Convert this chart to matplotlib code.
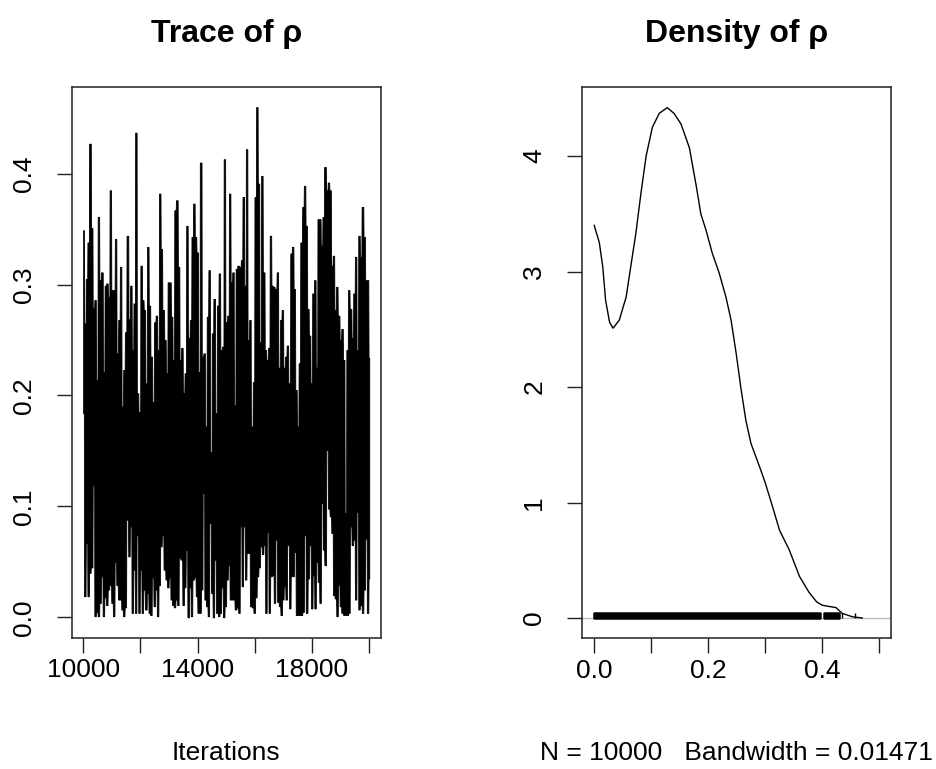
import numpy as np
import matplotlib
matplotlib.use("Agg")
import matplotlib.pyplot as plt

plt.rcParams['font.family'] = ['Liberation Sans', 'DejaVu Sans']

# ---------------- data ----------------
# Trace of rho: per-pixel-column upper and lower envelope of the 10000 draws
trace_upper_a = [0.349, 0.265, 0.305, 0.338, 0.427, 0.351, 0.279, 0.286, 0.214, 0.361, 0.304, 0.311,
                 0.221, 0.299, 0.301, 0.289, 0.385, 0.295, 0.295, 0.341, 0.238, 0.268, 0.316, 0.190,
                 0.223, 0.257, 0.344, 0.269, 0.299, 0.241, 0.283, 0.437, 0.202, 0.185, 0.317, 0.286,
                 0.277, 0.211, 0.334, 0.281, 0.235, 0.194, 0.266, 0.272, 0.241, 0.382, 0.332, 0.277,
                 0.250, 0.220, 0.302, 0.302, 0.271, 0.232, 0.367]
trace_upper_b = [0.376, 0.316, 0.232, 0.243, 0.202, 0.220, 0.353, 0.252, 0.268, 0.343, 0.373, 0.343,
                 0.329, 0.221, 0.410, 0.235, 0.238, 0.172, 0.271, 0.313, 0.149, 0.256, 0.287, 0.184,
                 0.281, 0.310, 0.241, 0.244, 0.413, 0.266, 0.272, 0.382, 0.302, 0.311, 0.191, 0.314,
                 0.317, 0.316, 0.322, 0.379, 0.299, 0.422, 0.250, 0.268, 0.172, 0.212, 0.379, 0.460,
                 0.391, 0.248, 0.398, 0.311, 0.241, 0.232, 0.243, 0.344, 0.299, 0.298]
trace_upper_c = [0.296, 0.311, 0.225, 0.268, 0.277, 0.225, 0.235, 0.245, 0.211, 0.328, 0.334, 0.296,
                 0.205, 0.172, 0.229, 0.338, 0.370, 0.389, 0.353, 0.278, 0.254, 0.211, 0.292, 0.304,
                 0.225, 0.359, 0.359, 0.335, 0.361, 0.406, 0.385, 0.392, 0.385, 0.317, 0.326, 0.277,
                 0.298, 0.272, 0.250, 0.260, 0.232, 0.094, 0.241, 0.295, 0.278, 0.252, 0.292, 0.325,
                 0.241, 0.344, 0.325, 0.370, 0.343, 0.304, 0.304, 0.234]
trace_lower_a = [0.184, 0.019, 0.067, 0.019, 0.040, 0.045, 0.119, 0.001, 0.005, 0.001, 0.013, 0.037,
                 0.001, 0.018, 0.011, 0.025, 0.029, 0.013, 0.001, 0.050, 0.029, 0.016, 0.016, 0.007,
                 0.001, 0.009, 0.088, 0.055, 0.082, 0.004, 0.043, 0.004, 0.074, 0.004, 0.043, 0.004,
                 0.025, 0.007, 0.022, 0.004, 0.002, 0.036, 0.010, 0.025, 0.001, 0.029, 0.064, 0.074,
                 0.043, 0.034, 0.027, 0.036, 0.016, 0.011, 0.009, 0.016, 0.011]
trace_lower_b = [0.054, 0.052, 0.011, 0.027, 0.061, 0.000, 0.027, 0.001, 0.034, 0.036, 0.019, 0.004,
                 0.004, 0.025, 0.112, 0.016, 0.010, 0.001, 0.085, 0.022, 0.000, 0.052, 0.004, 0.001,
                 0.004, 0.027, 0.000, 0.010, 0.034, 0.047, 0.016, 0.016, 0.016, 0.007, 0.009, 0.004,
                 0.082, 0.028, 0.082, 0.034, 0.058, 0.058, 0.010, 0.009, 0.004, 0.018, 0.037, 0.045,
                 0.064, 0.057, 0.065, 0.004, 0.077, 0.004, 0.037, 0.038, 0.013, 0.070]
trace_lower_c = [0.014, 0.010, 0.002, 0.016, 0.028, 0.016, 0.065, 0.008, 0.037, 0.037, 0.059, 0.002,
                 0.002, 0.002, 0.002, 0.005, 0.074, 0.004, 0.035, 0.065, 0.008, 0.038, 0.008, 0.050,
                 0.032, 0.013, 0.103, 0.061, 0.047, 0.151, 0.098, 0.091, 0.076, 0.020, 0.017, 0.001,
                 0.029, 0.010, 0.004, 0.002, 0.002, 0.002, 0.004, 0.082, 0.065, 0.070, 0.016, 0.095,
                 0.007, 0.011, 0.004, 0.025, 0.071, 0.004, 0.035]
iter_first, iter_last = 10001, 20000

# Density of rho (kernel density estimate)
dens_x = [0.000, 0.009, 0.015, 0.020, 0.027, 0.033, 0.044, 0.056, 0.064, 0.073, 0.082, 0.091,
          0.102, 0.114, 0.128, 0.140, 0.152, 0.160, 0.167, 0.179, 0.187, 0.196, 0.207, 0.219,
          0.231, 0.240, 0.249, 0.257, 0.266, 0.275, 0.290, 0.300, 0.313, 0.325, 0.342, 0.360,
          0.377, 0.390, 0.400, 0.424, 0.435, 0.453, 0.470]
dens_y = [3.40, 3.25, 3.04, 2.75, 2.56, 2.51, 2.58, 2.78, 3.04, 3.33, 3.68, 4.00,
          4.25, 4.37, 4.42, 4.37, 4.28, 4.17, 4.07, 3.74, 3.50, 3.36, 3.16, 2.99,
          2.78, 2.58, 2.29, 2.00, 1.71, 1.51, 1.31, 1.17, 0.96, 0.76, 0.59, 0.36,
          0.22, 0.14, 0.11, 0.09, 0.04, 0.01, 0.00]
rug_spans = [(0.000, 0.396), (0.403, 0.430)]
rug_single = [0.434, 0.457]

trace_xticks = [10000, 12000, 14000, 16000, 18000, 20000]
trace_xlabels = ["10000", "", "14000", "", "18000", ""]
trace_yticks = [0.0, 0.1, 0.2, 0.3, 0.4]
trace_ylabels = ["0.0", "0.1", "0.2", "0.3", "0.4"]
dens_xticks = [0.0, 0.1, 0.2, 0.3, 0.4, 0.5]
dens_xlabels = ["0.0", "", "0.2", "", "0.4", ""]
dens_yticks = [0, 1, 2, 3, 4]
dens_ylabels = ["0", "1", "2", "3", "4"]

# ---------------- figure ----------------
W, H = 936, 769
DPI = 100
fig = plt.figure(figsize=(W / DPI, H / DPI), dpi=DPI)

def px_axes(l, t, r, b):
    return fig.add_axes([l / W, 1 - b / H, (r - l) / W, (b - t) / H])

ax1 = px_axes(71.7, 86.7, 380.7, 637.7)
ax2 = px_axes(582.3, 87.3, 891.0, 638.3)

FS = 19
tick_len = 15 * 72 / DPI
for ax in (ax1, ax2):
    for s in ax.spines.values():
        s.set_linewidth(1.1)
        s.set_color('#222222')
    ax.tick_params(length=tick_len, width=1.0, color='#222222', labelsize=FS)
    ax.tick_params(axis='x', pad=4)
    ax.tick_params(axis='y', pad=15)

# --- trace panel ---
upper = np.array(trace_upper_a + trace_upper_b + trace_upper_c)
lower = np.array(trace_lower_a + trace_lower_b + trace_lower_c)
xf = np.linspace(iter_first, iter_last, 1200)
frac = (xf - iter_first) / (iter_last - iter_first)
up_f = upper[np.clip(np.round(frac * (len(upper) - 1)).astype(int), 0, len(upper) - 1)]
lo_f = lower[np.clip(np.round(frac * (len(lower) - 1)).astype(int), 0, len(lower) - 1)]
ax1.fill_between(xf, lo_f, up_f, color='black', linewidth=0.6, edgecolor='black')
ax1.set_xlim(9601, 20400)
ax1.set_ylim(-0.0184, 0.4784)
ax1.set_xticks(trace_xticks)
ax1.set_xticklabels(trace_xlabels)
ax1.set_yticks(trace_yticks)
ax1.set_yticklabels(trace_ylabels, rotation=90, va='center')

# --- density panel ---
ax2.axhline(0, color='#BEBEBE', lw=1.0, zorder=1)
ax2.plot(dens_x, dens_y, color='black', lw=1.0, zorder=3)
rug_h = max(dens_y) / 100
for a, b in rug_spans:
    ax2.fill_between([a, b], [0, 0], [rug_h, rug_h], color='black', lw=1.8, edgecolor='black', zorder=2)
ax2.vlines(rug_single, 0, rug_h, color='black', lw=1.0, zorder=2)
ax2.set_xlim(-0.0209, 0.5205)
ax2.set_ylim(-0.176, 4.596)
ax2.set_xticks(dens_xticks)
ax2.set_xticklabels(dens_xlabels)
ax2.set_yticks(dens_yticks)
ax2.set_yticklabels(dens_ylabels, rotation=90, va='center')

# --- titles and axis labels ---
fig.text((71.7 + 380.7) / 2 / W, 1 - 34 / H, "Trace of ρ", ha='center', va='center',
         fontsize=23, fontweight='bold')
fig.text((582.3 + 891.0) / 2 / W, 1 - 34 / H, "Density of ρ", ha='center', va='center',
         fontsize=23, fontweight='bold')
fig.text((71.7 + 380.7) / 2 / W, 1 - 753 / H, "Iterations", ha='center', va='center', fontsize=FS)
fig.text((582.3 + 891.0) / 2 / W, 1 - 753 / H, "N = 10000   Bandwidth = 0.01471",
         ha='center', va='center', fontsize=FS)

fig.savefig("out.png", dpi=DPI)
